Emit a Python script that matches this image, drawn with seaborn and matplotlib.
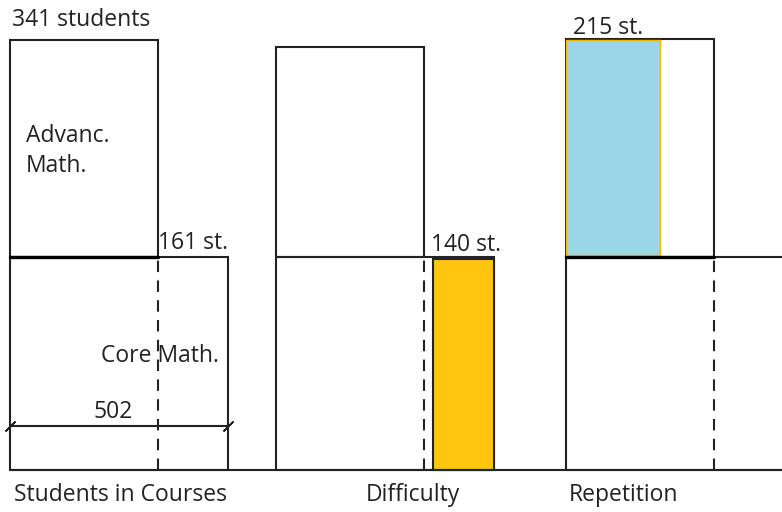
import numpy as np
import matplotlib
matplotlib.use("Agg")
import matplotlib.pyplot as plt
import seaborn as sns

sns.set_theme(style="white")
plt.rcParams['font.family'] = ['Open Sans', 'DejaVu Sans']

# ---- data (student counts) ----
advanced = 341          # students in advanced maths
core_only = 161         # extra students only in core maths
core_total = 502        # all students in core maths
difficulty = 140        # students naming difficulty
repetition = 215        # students naming repetition

panel_titles = ["Students in Courses", "Difficulty", "Repetition"]
top_labels = ["341 students", "140 st.", "215 st."]
course_labels = ["Advanc.\nMath.", "Core Math."]

# ---- layout (pixels of the 782x512 canvas) ----
W, H = 782, 512
K = 0.434                     # px per student
panel_left = [10, 276, 566]   # px
base_px, mid_px = 470, 257
top_px = [40, 47, 39]
ink = '#222222'
lw = 1.5
fs = 16.5

fig = plt.figure(figsize=(W / 100, H / 100), dpi=100)
ax = fig.add_axes([0, 0, 1, 1])
ax.set_xlim(0, W / K)
ax.set_ylim(-(H - base_px), base_px)   # y measured up from baseline
ax.axis('off')

def px(x):
    return x / K

def yy(p):
    return base_px - p

mid = yy(mid_px)

# baseline across the whole picture
ax.plot([px(panel_left[0]), ax.get_xlim()[1]], [0, 0], color=ink, lw=lw)

# core maths boxes (lower level) in every panel
for i, left in enumerate(panel_left):
    x0 = px(left)
    ax.bar(x0, mid, width=core_total, bottom=0, align='edge',
           facecolor='none', edgecolor=ink, linewidth=lw, clip_on=True)
    # dashed split between advanced and core-only students
    ax.plot([x0 + advanced, x0 + advanced], [0, mid], color=ink, lw=lw,
            dashes=(5.5, 4))

# advanced maths boxes (upper level)
for i, left in enumerate(panel_left):
    x0 = px(left)
    ax.bar(x0, yy(top_px[i]) - mid, width=advanced, bottom=mid, align='edge',
           facecolor='none', edgecolor=ink, linewidth=lw)

# thicker shared edges
for left in (panel_left[0], panel_left[2]):
    ax.plot([px(left), px(left) + advanced], [mid, mid], color='black', lw=2.4)

# difficulty: students at the right end of core maths
x0 = px(panel_left[1])
ax.bar(x0 + core_total - difficulty, mid - 2, width=difficulty, bottom=0,
       align='edge', facecolor='#FFC50F', edgecolor=ink, linewidth=lw)

# repetition: advanced students repeating
x0 = px(panel_left[2])
ax.bar(x0 + 1, yy(top_px[2]) - mid - 3, width=repetition, bottom=mid + 2,
       align='edge', facecolor='#9AD6E7', edgecolor='#F2B705', linewidth=1.0)

# dimension line for 502
x0 = px(panel_left[0])
ydim = yy(426)
ax.plot([x0, x0 + core_total], [ydim, ydim], color=ink, lw=lw)
ax.plot([x0, x0 + core_total], [ydim, ydim], linestyle='none',
        marker=(2, 2, -45), markersize=10, mec=ink, mew=1.2)
ax.text(x0 + 83 / K, yy(412), str(core_total), fontsize=fs, color=ink,
        va='center', ha='left')

# text labels
txt = dict(fontsize=fs, color=ink, va='center', ha='left')
ax.text(px(12), yy(20), top_labels[0], **txt)
ax.text(px(26), yy(151), course_labels[0], linespacing=1.3, **txt)
ax.text(px(panel_left[0]) + advanced, yy(243), f"{core_only} st.", **txt)
ax.text(px(101), yy(356), course_labels[1], **txt)
ax.text(px(431), yy(245), top_labels[1], **txt)
ax.text(px(573), yy(28), top_labels[2], **txt)

for left, t, off in zip(panel_left, panel_titles, [4, 90, 3]):
    ax.text(px(left + off), yy(495), t, **txt)

fig.savefig('out.png', dpi=100, facecolor='white')
